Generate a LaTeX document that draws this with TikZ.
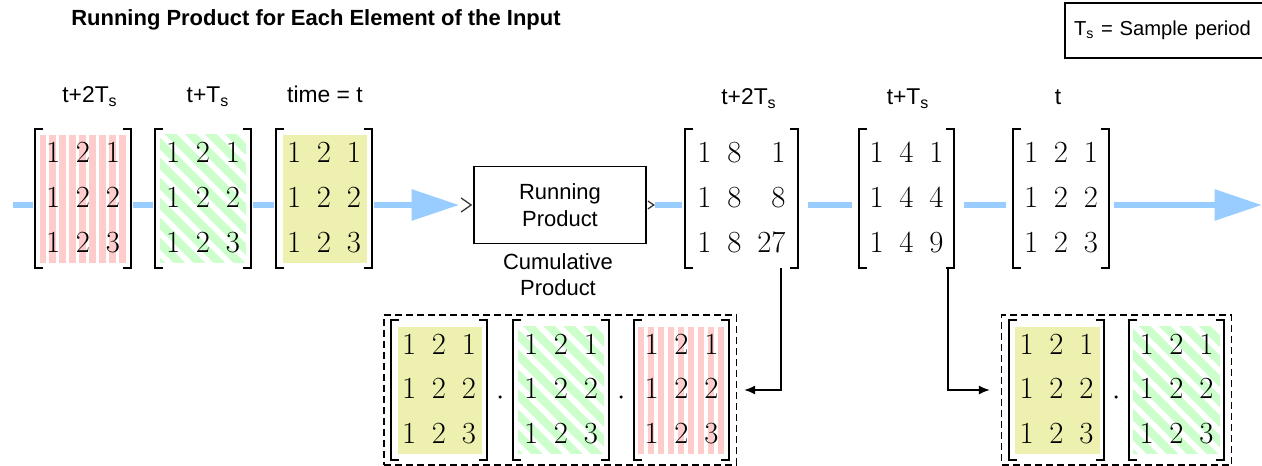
\documentclass[tikz,border=0pt]{standalone}
\usepackage{fontspec}
\newfontfamily\labelfont{Liberation Sans}
\usetikzlibrary{arrows.meta,fit}

\definecolor{flowblue}{RGB}{153,204,255}
\definecolor{pinkbg}{RGB}{255,204,204}
\definecolor{greenbg}{RGB}{204,255,204}
\definecolor{yellowbg}{RGB}{238,240,176}

\newcommand\matfont{\fontsize{17.5}{25.5}\selectfont}
\newcommand\tsub{T\textsubscript{s}}
\newcommand\basemat{\begin{tabular}{ccc}1&2&1\\1&2&2\\1&2&3\end{tabular}}
\setlength\tabcolsep{4.5pt}

\begin{document}
\begin{tikzpicture}[x=0.02cm, y=-0.02cm,
        mat/.style={minimum width=1.9cm, minimum height=2.78cm, inner sep=0pt, font=\matfont},
        bracket/.style={line width=0.045cm},
        pinkfill/.style={fill=white, path picture={
            \fill[pinkbg] ([shift={(4,6)}]path picture bounding box.north west) rectangle ([shift={(-4,-5)}]path picture bounding box.south east);
            \foreach \k in {0,...,8}
                \fill[white] ([shift={(10+\k*10,0)}]path picture bounding box.north west) rectangle ++(3.5,140);
        }},
        greenfill/.style={fill=white, path picture={
            \fill[greenbg] ([shift={(4,5)}]path picture bounding box.north west) rectangle ([shift={(-4,-5)}]path picture bounding box.south east);
            \foreach \k in {-8,...,5}
                \draw[white, line width=0.11cm] ([shift={(\k*20,0)}]path picture bounding box.north west) -- ++(150,150);
        }},
        yellowfill/.style={fill=white, path picture={
            \fill[yellowbg] ([shift={(6,6)}]path picture bounding box.north west) rectangle ([shift={(-4,-5)}]path picture bounding box.south east);
        }},
        tlabel/.style={font=\labelfont\fontsize{13}{15}\selectfont, anchor=base, inner sep=0pt},
        blockbox/.style={draw, line width=0.035cm, minimum width=3.44cm, minimum height=1.54cm, align=center, font=\labelfont\fontsize{12.5}{15.3}\selectfont},
        captext/.style={align=center, font=\labelfont\fontsize{12.5}{14.8}\selectfont},
        legend/.style={draw, line width=0.04cm, minimum height=1.1cm, text width=4cm, inner xsep=0.18cm, align=left, font=\labelfont\fontsize{11.5}{14}\selectfont},
        flow/.style={draw=flowblue, line width=0.12cm, shorten <=0.05cm, shorten >=0.05cm},
        flowtip/.style={-{Triangle[length=0.95cm, width=0.6cm]}},
        port/.style={draw=black!80, line width=0.025cm},
        link/.style={line width=0.035cm, -{Latex[length=0.22cm, width=0.18cm]}},
        dashbox/.style={draw, dash pattern=on 0.14cm off 0.08cm, line width=0.03cm, inner xsep=0.14cm, inner ysep=0.1cm},
        dotsep/.style={circle, fill, inner sep=0pt, minimum size=0.07cm}
    ]
    \useasboundingbox (0,0) rectangle (1262,466);

    \node[font=\labelfont\bfseries\fontsize{12.5}{15}\selectfont] (title) at (316,20) {Running Product for Each Element of the Input};
    \node[legend, anchor=west] (key) at (1064,30.5) {\tsub{} = Sample period};

    % input samples
    \node[mat, pinkfill] (in1) at (83,198.5) {\basemat};
    \node[mat, greenfill] (in2) at (203,198.5) {\basemat};
    \node[mat, yellowfill] (in3) at (324,198.5) {\basemat};
    \node[tlabel] (lin1) at (90,103) {t+2\tsub};
    \node[tlabel] (lin2) at (208,103) {t+\tsub};
    \node[tlabel] (lin3) at (325,103) {time = t};

    % block
    \node[blockbox] (blk) at (560,205) {Running\\Product};
    \node[captext] (cap) at (558,275) {Cumulative\\Product};
    \draw[port] ([shift={(-12,-7)}]blk.west) -- ([shift={(-2,0)}]blk.west) -- ([shift={(-12,7)}]blk.west);
    \draw[port] ([shift={(1,-4)}]blk.east) -- ([shift={(7,0)}]blk.east) -- ([shift={(1,4)}]blk.east);

    % output samples
    \node[mat, minimum width=2.26cm] (out1) at (741.5,198.5) {\begin{tabular}{rrr}1&8&1\\1&8&8\\1&8&27\end{tabular}};
    \node[mat] (out2) at (906.5,198.5) {\begin{tabular}{ccc}1&4&1\\1&4&4\\1&4&9\end{tabular}};
    \node[mat] (out3) at (1061,198.5) {\basemat};
    \node[tlabel] (lout1) at (749,105) {t+2\tsub};
    \node[tlabel] (lout2) at (908,105) {t+\tsub};
    \node[tlabel] (lout3) at (1058,105) {t};

    % products
    \node[mat, yellowfill] (b1m1) at (439,390) {\basemat};
    \node[mat, greenfill] (b1m2) at (561,390) {\basemat};
    \node[mat, pinkfill] (b1m3) at (681.5,390) {\basemat};
    \node[dotsep] (dot1) at (500,397) {};
    \node[dotsep] (dot2) at (621,397) {};
    \node[dashbox, fit=(b1m1)(b1m3)] (box1) {};

    \node[mat, yellowfill] (b2m1) at (1056.5,390) {\basemat};
    \node[mat, greenfill] (b2m2) at (1176.5,390) {\basemat};
    \node[dotsep] (dot3) at (1116,397) {};
    \node[dashbox, fit=(b2m1)(b2m2)] (box2) {};

    \foreach \m in {in1,in2,in3,out1,out2,out3,b1m1,b1m2,b1m3,b2m1,b2m2} {
        \draw[bracket] ([xshift=0.16cm]\m.north west) -- (\m.north west) -- (\m.south west) -- ([xshift=0.16cm]\m.south west);
        \draw[bracket] ([xshift=-0.16cm]\m.north east) -- (\m.north east) -- (\m.south east) -- ([xshift=-0.16cm]\m.south east);
    }

    % signal lines
    \coordinate (axis) at (0,205);
    \coordinate (src) at (11,205);
    \coordinate (sink) at (1262,205);
    \draw[flow] (src) -- (in1.west |- axis);
    \draw[flow] (in1.east |- axis) -- (in2.west |- axis);
    \draw[flow] (in2.east |- axis) -- (in3.west |- axis);
    \draw[flow, flowtip, shorten >=0.28cm] (in3.east |- axis) -- (blk.west);
    \draw[flow, shorten <=0.16cm] (blk.east) -- (out1.west |- axis);
    \draw[flow, shorten <=0.2cm, shorten >=0.14cm] (out1.east |- axis) -- (out2.west |- axis);
    \draw[flow, shorten <=0.2cm, shorten >=0.14cm] (out2.east |- axis) -- (out3.west |- axis);
    \draw[flow, flowtip, shorten <=0.1cm, shorten >=0pt] (out3.east |- axis) -- (sink);

    \draw[link, shorten >=0.14cm] ([xshift=-0.34cm]out1.south east) |- (box1.east);
    \draw[link, shorten >=0.22cm] ([xshift=-0.12cm]out2.south east) |- (box2.west);
\end{tikzpicture}
\end{document}
